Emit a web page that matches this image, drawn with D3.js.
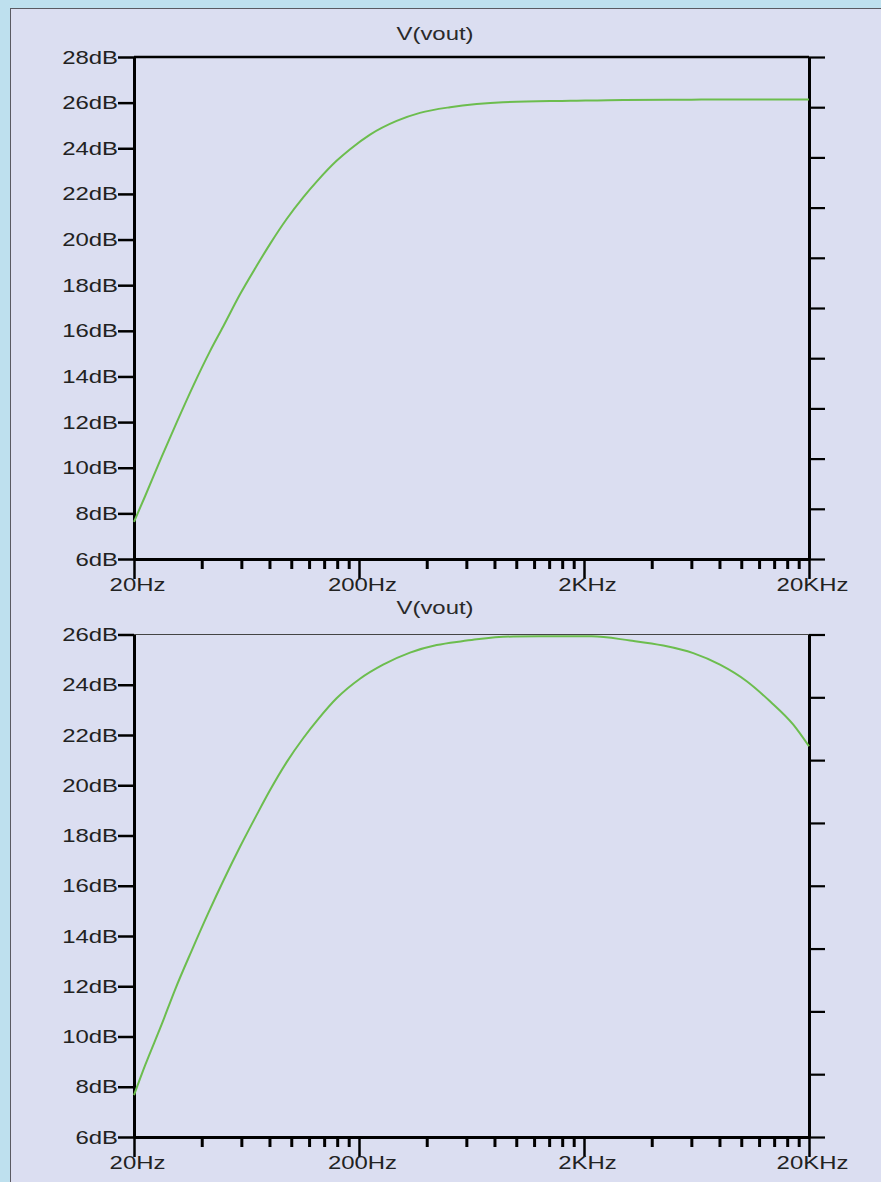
<!DOCTYPE html>
<html>
<head>
<meta charset="utf-8">
<script src="https://cdn.jsdelivr.net/npm/d3@7"></script>
<style>
  html, body { margin: 0; padding: 0; background: #bee0ee; }
  svg { display: block; }
  text { font-family: "Liberation Sans", Arial, sans-serif; font-size: 18px; fill: #222; }
</style>
</head>
<body>
<svg id="chart" width="881" height="1182"></svg>
<script>
// ---------- data ----------
const chartTitle = "V(vout)";
const xTickValues = [20, 200, 2000, 20000];
const xTickLabels = ["20Hz", "200Hz", "2KHz", "20KHz"];
const minorMultipliers = [2, 3, 4, 5, 6, 7, 8, 9];

// top plot (flat response)
const yTicksTop = [6, 8, 10, 12, 14, 16, 18, 20, 22, 24, 26, 28];
const freqTop = [20, 22.4, 26.6, 31.0, 36.7, 43.5, 49.9, 59.2, 70.2, 80.4, 95.4, 113, 130, 159, 182, 224, 294, 373, 508, 667, 873, 1740, 3000, 6000, 10000, 20000];
const dbTop   = [7.63, 8.75, 10.5, 12.0, 13.6, 15.1, 16.2, 17.6, 18.85, 19.8, 20.9, 21.85, 22.55, 23.45, 23.95, 24.6, 25.2, 25.55, 25.8, 25.94, 26.02, 26.08, 26.12, 26.13, 26.14, 26.14];
const rightDivsTop = 10;

// bottom plot (band-pass response)
const yTicksBot = [6, 8, 10, 12, 14, 16, 18, 20, 22, 24, 26];
const freqBot = [20, 22.4, 26.6, 30.4, 36.1, 42.8, 49.9, 59.2, 70.2, 80.4, 95.4, 113, 132, 159, 202, 256, 337, 443, 582, 667, 970, 2164, 3204, 4502, 6118, 8045, 10572, 13418, 17032, 20000];
const dbBot   = [7.67, 8.85, 10.5, 11.85, 13.42, 14.92, 16.2, 17.55, 18.82, 19.8, 20.92, 21.87, 22.64, 23.46, 24.24, 24.8, 25.28, 25.58, 25.74, 25.81, 25.92, 25.93, 25.76, 25.56, 25.26, 24.8, 24.14, 23.34, 22.41, 21.55];
const rightDivsBot = 8;

// ---------- drawing ----------
const svg = d3.select("#chart");
const SX = 1.33; // horizontal stretch of the original rendering's text

svg.append("rect")
  .attr("x", 10.5).attr("y", 8.5)
  .attr("width", 880).attr("height", 1180)
  .attr("fill", "#dbdef1").attr("stroke", "#5a5a62").attr("stroke-width", 1);

const minorTicks = [];
[20, 200, 2000].forEach(base => minorMultipliers.forEach(m => minorTicks.push(base * m)));

function drawPlot(cfg) {
  const x = d3.scaleLog().domain([20, 20000]).range([134, 809]);
  const y = d3.scaleLinear().domain([cfg.yTicks[0], cfg.yTicks[cfg.yTicks.length - 1]]).range([cfg.yBot, cfg.yTop]);
  const g = svg.append("g");

  // title
  g.append("text")
    .attr("transform", `translate(435,${cfg.titleY}) scale(${SX},1)`)
    .attr("text-anchor", "middle")
    .style("fill", "#2a2a2a")
    .text(chartTitle);

  // top border
  g.append("line")
    .attr("x1", 134).attr("x2", 809)
    .attr("y1", cfg.yTop).attr("y2", cfg.yTop)
    .attr("stroke", cfg.topColor).attr("stroke-width", cfg.topWidth);

  // right (unlabelled) axis
  const r = d3.scaleLinear().domain([0, cfg.rightDivs]).range([cfg.yBot, cfg.yTop]);
  const rAxis = g.append("g").attr("transform", "translate(809,0)")
    .call(d3.axisRight(r).tickValues(d3.range(0, cfg.rightDivs + 1)).tickSize(16).tickSizeOuter(0).tickFormat(""));
  rAxis.select(".domain").attr("stroke", "#000").attr("stroke-width", 3);
  rAxis.selectAll(".tick line").attr("stroke", "#000").attr("stroke-width", 2.2);

  // x minor ticks
  const xMinor = g.append("g").attr("transform", `translate(0,${cfg.yBot})`)
    .call(d3.axisBottom(x).tickValues(minorTicks).tickSize(10).tickSizeOuter(0).tickFormat(""));
  xMinor.select(".domain").remove();
  xMinor.selectAll(".tick line").attr("stroke", "#000").attr("stroke-width", 3);

  // x major ticks + labels
  const xMajor = g.append("g").attr("transform", `translate(0,${cfg.yBot})`)
    .call(d3.axisBottom(x).tickValues(xTickValues).tickSize(20).tickSizeOuter(0)
      .tickFormat((d, i) => xTickLabels[i]));
  xMajor.select(".domain").attr("stroke", "#000").attr("stroke-width", 3);
  xMajor.selectAll(".tick line").attr("stroke", "#000").attr("stroke-width", 2.5);
  xMajor.selectAll(".tick text")
    .attr("y", null).attr("dy", null)
    .attr("transform", `translate(3,32) scale(${SX},1)`)
    .attr("text-anchor", "middle")
    .attr("fill", "#222");

  // left axis
  const yAxis = g.append("g").attr("transform", "translate(134,0)")
    .call(d3.axisLeft(y).tickValues(cfg.yTicks).tickSize(16).tickSizeOuter(0).tickFormat(d => d + "dB"));
  yAxis.select(".domain").attr("stroke", "#000").attr("stroke-width", 3);
  yAxis.selectAll(".tick line").attr("stroke", "#000").attr("stroke-width", 2.5);
  yAxis.selectAll(".tick text")
    .attr("x", null).attr("dy", null)
    .attr("transform", `translate(-16,6) scale(${SX},1)`)
    .attr("text-anchor", "end")
    .attr("fill", "#222");
  svg.selectAll(".tick text").attr("font-family", null).attr("font-size", null);

  // curve
  const pts = cfg.freq.map((f, i) => [f, cfg.db[i]]);
  g.append("path")
    .datum(pts)
    .attr("fill", "none")
    .attr("stroke", "#6cbd4e")
    .attr("stroke-width", 2)
    .attr("d", d3.line().x(d => x(d[0])).y(d => y(d[1])).curve(d3.curveMonotoneX));
}

drawPlot({ yTop: 57, yBot: 559, titleY: 40, yTicks: yTicksTop, freq: freqTop, db: dbTop,
  rightDivs: rightDivsTop, topColor: "#000", topWidth: 2.5 });
drawPlot({ yTop: 634.5, yBot: 1137, titleY: 614, yTicks: yTicksBot, freq: freqBot, db: dbBot,
  rightDivs: rightDivsBot, topColor: "#444", topWidth: 1.2 });
</script>
</body>
</html>
